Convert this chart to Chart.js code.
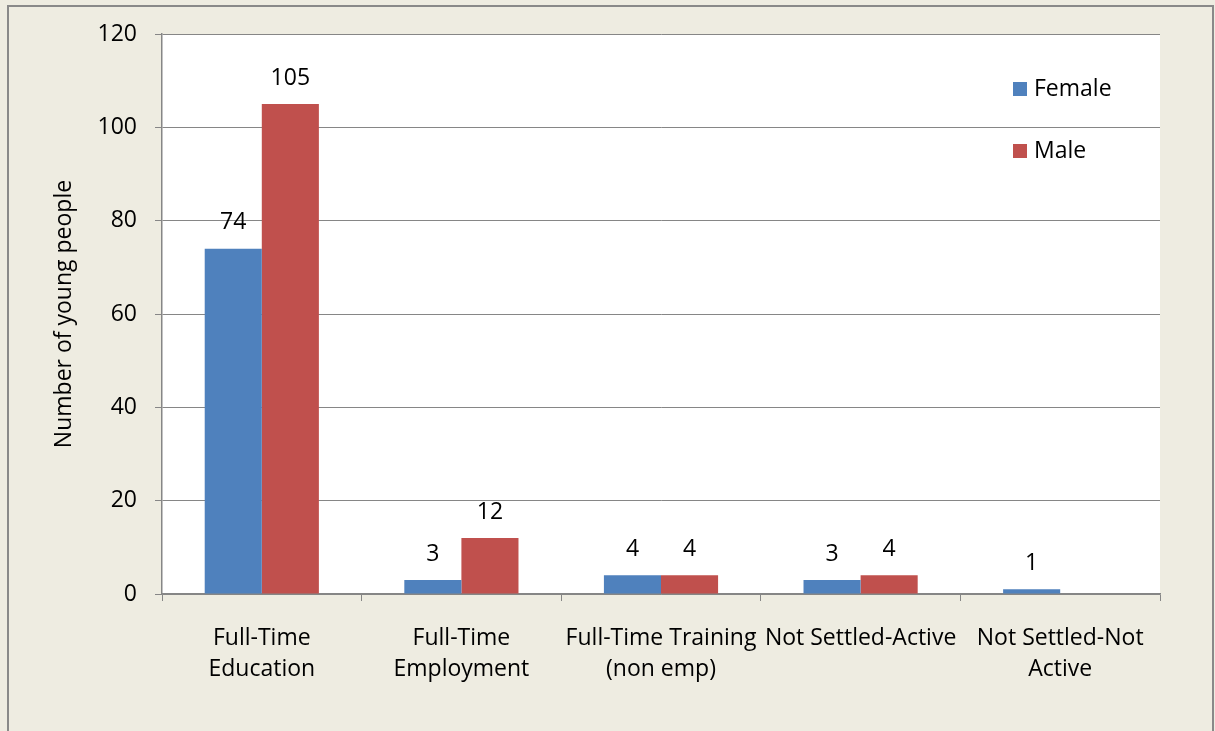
<!DOCTYPE html>
<html><head><meta charset="utf-8">
<script src="https://cdn.jsdelivr.net/npm/chart.js@4"></script>
<style>html,body{margin:0;padding:0;background:#EEECE1;overflow:hidden}canvas{display:block}</style>
</head><body><canvas id="c" width="1215" height="731" style="width:1215px;height:731px"></canvas>
<script>
const categories = [["Full-Time","Education"],["Full-Time","Employment"],["Full-Time Training","(non emp)"],"Not Settled-Active",["Not Settled-Not","Active"]];
const femaleValues = [74, 3, 4, 3, 1];
const maleValues = [105, 12, 4, 4, 0];
const seriesNames = ["Female", "Male"];
const seriesColors = ["#4F81BD", "#C0504D"];
const yAxisTitle = "Number of young people";
const yMin = 0, yMax = 120, yStep = 20;

const FONT = "'Open Sans', Lato, sans-serif";
const FS = 23;
const GRID = "#868686";

const bgPlugin = {
  id: 'bg',
  beforeDraw(chart) {
    const ctx = chart.ctx, ca = chart.chartArea;
    ctx.save();
    ctx.fillStyle = "#EEECE1";
    ctx.fillRect(0, 0, chart.width, chart.height);
    ctx.fillStyle = "#FFFFFF";
    ctx.fillRect(ca.left, ca.top, ca.right - ca.left, ca.bottom - ca.top);
    ctx.strokeStyle = "#898989";
    ctx.lineWidth = 2;
    ctx.strokeRect(8, 6, 1205, 760);
    ctx.restore();
  }
};

const labelPlugin = {
  id: 'vals',
  afterDatasetsDraw(chart) {
    const ctx = chart.ctx;
    ctx.save();
    ctx.font = FS + "px " + FONT;
    ctx.fillStyle = "#000";
    ctx.textAlign = "center";
    ctx.textBaseline = "middle";
    chart.data.datasets.forEach((ds, i) => {
      const meta = chart.getDatasetMeta(i);
      meta.data.forEach((el, j) => {
        const v = ds.data[j];
        if (v > 0) ctx.fillText(String(v), el.x, el.y - 26);
      });
    });
    ctx.restore();
  }
};

const legendPlugin = {
  id: 'customLegend',
  afterDraw(chart) {
    const ctx = chart.ctx, ca = chart.chartArea;
    ctx.save();
    ctx.font = FS + "px " + FONT;
    ctx.textAlign = "left";
    ctx.textBaseline = "middle";
    chart.data.datasets.forEach((ds, i) => {
      const cy = ca.top + 55 + i * 62;
      const sx = ca.right - 147;
      ctx.fillStyle = ds.backgroundColor;
      ctx.fillRect(sx, cy - 7, 14, 14);
      ctx.fillStyle = "#000";
      ctx.fillText(ds.label, sx + 21, cy);
    });
    ctx.restore();
  }
};

new Chart(document.getElementById('c'), {
  type: 'bar',
  data: {
    labels: categories,
    datasets: [
      { label: seriesNames[0], data: femaleValues, backgroundColor: seriesColors[0], categoryPercentage: 0.572, barPercentage: 1.0 },
      { label: seriesNames[1], data: maleValues, backgroundColor: seriesColors[1], categoryPercentage: 0.572, barPercentage: 1.0 }
    ]
  },
  options: {
    responsive: false,
    animation: false,
    devicePixelRatio: 1,
    layout: { padding: { top: 34, right: 55, bottom: 0, left: 0 } },
    plugins: { legend: { display: false }, tooltip: { enabled: false } },
    scales: {
      x: {
        afterFit(s) { s.height = 137; },
        grid: { offset: true, drawOnChartArea: false, drawTicks: true, tickLength: 7, color: GRID, lineWidth: 1 },
        border: { display: true, color: GRID, width: 1.5 },
        ticks: { color: "#000", font: { family: FONT, size: FS, lineHeight: 1.35 }, padding: 22, autoSkip: false, maxRotation: 0, minRotation: 0 }
      },
      y: {
        min: yMin, max: yMax,
        afterFit(s) { s.width = 162; },
        grid: { color: GRID, lineWidth: 1, drawTicks: true, tickLength: 7 },
        border: { display: true, color: GRID, width: 1.5 },
        ticks: { stepSize: yStep, color: "#000", font: { family: FONT, size: FS }, padding: 18 },
        title: { display: true, text: yAxisTitle, color: "#000", font: { family: FONT, size: FS }, padding: { top: 51, bottom: 0 } }
      }
    }
  },
  plugins: [bgPlugin, labelPlugin, legendPlugin]
});
</script>
</body></html>
